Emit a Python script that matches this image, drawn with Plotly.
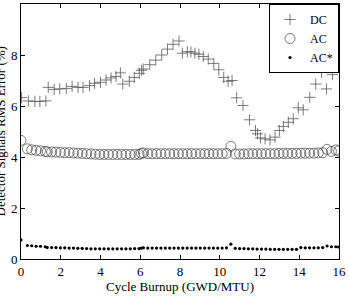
import plotly.graph_objects as go

dc_x = [0.03, 0.37, 0.7, 0.95, 1.25, 1.37, 1.67, 1.95, 2.28, 2.57, 2.87, 3.12, 3.45, 3.7, 4.0,
        4.28, 4.53, 4.78, 5.0, 5.12, 5.45, 5.7, 5.95, 6.07, 6.15, 6.48, 6.78, 7.08, 7.37, 7.65,
        7.95, 8.12, 8.37, 8.55, 8.75, 8.95, 9.17, 9.42, 9.7, 9.95, 10.2, 10.42, 10.62, 10.85,
        11.17, 11.5, 11.8, 11.9, 12.05, 12.28, 12.53, 12.78, 13.0, 13.2, 13.45, 13.7, 13.95,
        14.2, 14.53, 14.83, 15.12, 15.37, 15.67, 15.97]
dc_y = [6.33, 6.2, 6.18, 6.18, 6.2, 6.73, 6.65, 6.67, 6.69, 6.77, 6.73, 6.73, 6.8, 6.89, 6.93,
        7.02, 7.1, 7.16, 7.3, 6.86, 6.97, 7.12, 7.28, 7.4, 7.45, 7.62, 7.8, 8.0, 8.23, 8.42,
        8.55, 8.07, 8.13, 8.12, 8.07, 8.03, 7.94, 7.84, 7.67, 7.42, 7.12, 6.97, 7.0, 6.32,
        6.02, 5.46, 5.04, 4.91, 4.75, 4.71, 4.67, 4.78, 5.04, 5.2, 5.36, 5.5, 5.93,
        5.85, 6.34, 6.86, 7.32, 6.67, 7.23, 7.67]

ac_x = [0.0, 0.32, 0.54, 0.76, 0.98, 1.22, 1.32, 1.54, 1.76, 1.98, 2.2, 2.42, 2.64, 2.86, 3.08,
        3.3, 3.52, 3.74, 3.96, 4.18, 4.4, 4.62, 4.84, 5.06, 5.28, 5.5, 5.72, 5.94, 6.06, 6.16,
        6.38, 6.6, 6.82, 7.04, 7.26, 7.48, 7.7, 7.92, 8.14, 8.36, 8.58, 8.8, 9.02, 9.24, 9.46,
        9.68, 9.9, 10.12, 10.34, 10.56, 10.78, 11.0, 11.22, 11.44, 11.66, 11.88, 12.1, 12.32,
        12.54, 12.76, 12.98, 13.2, 13.42, 13.64, 13.86, 14.08, 14.3, 14.52, 14.74, 14.96,
        15.18, 15.4, 15.62, 15.84, 15.98]
ac_y = [4.65, 4.32, 4.28, 4.26, 4.24, 4.22, 4.2, 4.2, 4.19, 4.18, 4.17, 4.17, 4.16, 4.15, 4.14,
        4.13, 4.12, 4.11, 4.1, 4.1, 4.1, 4.1, 4.1, 4.1, 4.1, 4.1, 4.1, 4.1, 4.14, 4.16,
        4.13, 4.13, 4.13, 4.13, 4.13, 4.13, 4.13, 4.13, 4.13, 4.13, 4.13, 4.13, 4.13, 4.13, 4.13,
        4.13, 4.13, 4.13, 4.14, 4.42, 4.12, 4.12, 4.12, 4.13, 4.13, 4.13, 4.13, 4.13,
        4.13, 4.13, 4.14, 4.14, 4.14, 4.14, 4.14, 4.15, 4.15, 4.15, 4.15, 4.16,
        4.17, 4.3, 4.22, 4.28, 4.24]
acs_y = [0.75, 0.53, 0.52, 0.5, 0.5, 0.48, 0.45, 0.45, 0.45, 0.44, 0.44, 0.43, 0.43, 0.42, 0.42,
         0.41, 0.4, 0.4, 0.4, 0.4, 0.4, 0.4, 0.4, 0.4, 0.4, 0.4, 0.41, 0.41, 0.43, 0.44,
         0.43, 0.43, 0.43, 0.43, 0.43, 0.43, 0.43, 0.43, 0.43, 0.43, 0.43, 0.43, 0.43, 0.43, 0.43,
         0.43, 0.43, 0.43, 0.44, 0.58, 0.42, 0.41, 0.41, 0.4, 0.4, 0.39, 0.39, 0.39,
         0.38, 0.38, 0.38, 0.38, 0.38, 0.38, 0.38, 0.45, 0.44, 0.44, 0.44, 0.44,
         0.45, 0.51, 0.48, 0.48, 0.47]

x_ticks = [0, 2, 4, 6, 8, 10, 12, 14, 16]
y_ticks = [0, 2, 4, 6, 8, 10]

font = "Liberation Serif"
fig = go.Figure()
fig.add_trace(go.Scatter(x=dc_x, y=dc_y, mode="markers", name="DC",
                         marker=dict(symbol="cross-thin", size=8, line=dict(width=0.8, color="#5a5a5a"),
                                     color="#5a5a5a")))
fig.add_trace(go.Scatter(x=ac_x, y=ac_y, mode="markers", name="AC",
                         marker=dict(symbol="circle-open", size=10, line=dict(width=0.7, color="#444444"),
                                     color="#444444")))
fig.add_trace(go.Scatter(x=ac_x, y=acs_y, mode="markers", name="AC*",
                         marker=dict(symbol="circle", size=3.2, color="black")))

axis_common = dict(showline=True, linecolor="black", linewidth=1, mirror="ticks", ticks="inside",
                   ticklen=4, tickcolor="black", showgrid=False, zeroline=False,
                   tickfont=dict(family=font, size=13, color="black"))
fig.update_xaxes(range=[0, 16], tickvals=x_ticks, **axis_common,
                 title=dict(text="Cycle Burnup (GWD/MTU)", font=dict(family=font, size=13, color="black"),
                            standoff=4))
fig.update_yaxes(range=[0, 10], tickvals=y_ticks, **axis_common)
fig.add_annotation(text="Detector Signals RMS Error (%)", xref="paper", yref="paper",
                   x=-0.066, y=0.5, textangle=-90, showarrow=False, xanchor="center", yanchor="middle",
                   font=dict(family=font, size=13, color="black"))
fig.update_layout(width=349, height=296, margin=dict(l=21, r=7, t=3, b=37),
                  plot_bgcolor="white", paper_bgcolor="white",
                  legend=dict(x=1, y=1, xanchor="right", yanchor="top", bordercolor="black",
                              borderwidth=1, bgcolor="white", font=dict(family=font, size=12, color="black"),
                              tracegroupgap=0, itemwidth=30))
fig.write_html("out.html")
